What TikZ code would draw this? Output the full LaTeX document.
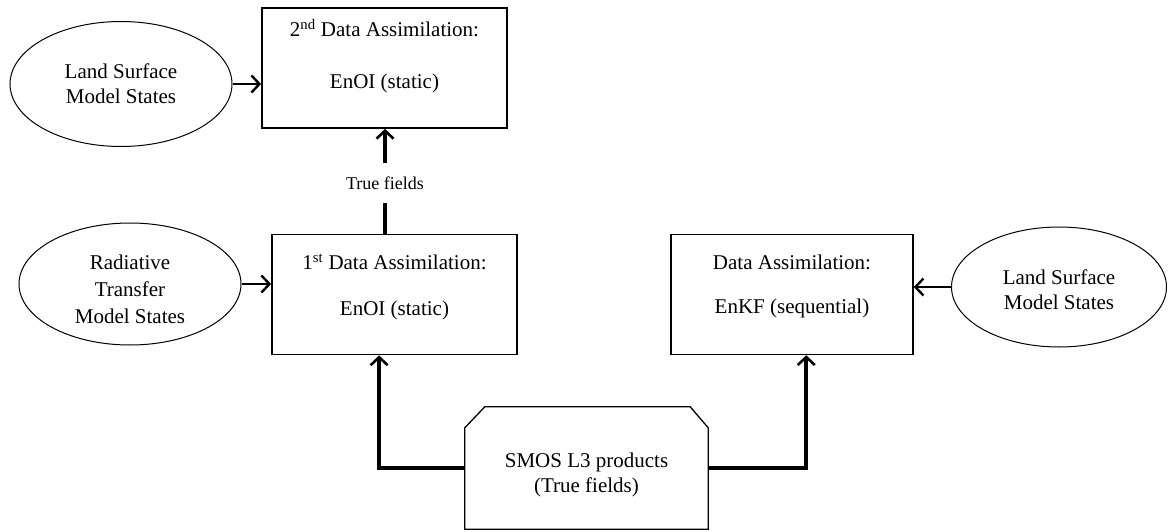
\documentclass[tikz,border=0pt]{standalone}
\usepackage{fontspec}
\setmainfont{Liberation Serif}
\usetikzlibrary{arrows.meta,calc,shapes.geometric}

\tikzset{
  boxnode/.style={draw, line width=1.8pt, minimum width=245pt, minimum height=120pt, inner sep=0pt},
  ovalnode/.style={draw, ellipse, line width=1pt, inner sep=0pt},
  txt/.style={font=\fontsize{21pt}{25pt}\selectfont, align=center, inner sep=0pt},
  lbl/.style={font=\fontsize{18pt}{21pt}\selectfont, inner sep=0pt},
  flow/.style={line width=3.6pt, -{Straight Barb[length=8pt,width=17pt,line width=2.6pt]}},
  flowthin/.style={line width=2.8pt, -{Straight Barb[length=8pt,width=17pt,line width=2.4pt]}},
  plain/.style={line width=3.6pt}
}

\begin{document}
\begin{tikzpicture}[x=1pt,y=-1pt]
\useasboundingbox (0,0) rectangle (1169,532);

% model state inputs
\node[ovalnode, minimum width=222pt, minimum height=125pt] (lsmA) at (121,84) {};
\node[txt] at (121,84) {Land Surface\\Model States};

\node[ovalnode, minimum width=222pt, minimum height=122pt] (rtm) at (130,284) {};
\node[txt, font=\fontsize{21pt}{27pt}\selectfont] at (130,289) {Radiative\\Transfer\\Model States};

\node[ovalnode, minimum width=215pt, minimum height=120pt] (lsmB) at (1059,287) {};
\node[txt] at (1059,290) {Land Surface\\Model States};

% assimilation steps
\node[boxnode] (da2) at (384.5,68) {};
\node[txt] at (384.5,28) {2\textsuperscript{nd} Data Assimilation:};
\node[txt] at (384.5,83) {EnOI (static)};

\node[boxnode] (da1) at (394.5,294.5) {};
\node[txt] at (394.5,262) {1\textsuperscript{st} Data Assimilation:};
\node[txt] at (394.5,310) {EnOI (static)};

\node[boxnode, minimum width=242pt, line width=1.5pt] (dak) at (792,294.5) {};
\node[txt] at (792,262) {Data Assimilation:};
\node[txt] at (792,308) {EnKF (sequential)};

% observation product
\node[minimum width=243pt, minimum height=122pt, inner sep=0pt] (smos) at (586.5,468) {};
\draw[line width=1.3pt]
  ($(smos.north west)+(0,21)$) -- ($(smos.north west)+(20,0)$)
  -- ($(smos.north east)+(-18,0)$) -- ($(smos.north east)+(0,21)$)
  -- (smos.south east) -- (smos.south west) -- cycle;
\node[txt] at (586.5,475) {SMOS L3 products\\(True fields)};

% label between the two EnOI steps
\node[lbl, minimum height=40pt] (tf) at (385,183) {True fields};

% connectors
\draw[flowthin] (lsmA.east) -- (lsmA.east -| da2.west);
\draw[flowthin] (rtm.east) -- (rtm.east -| da1.west);
\draw[flowthin, line width=2.4pt] (lsmB.west) -- (lsmB.west -| dak.east);
\draw[plain] (tf.south |- da1.north) -- (tf.south);
\draw[flow] (tf.north) -- (tf.north |- da2.south);
\draw[flow] (smos.west) -| ($(da1.south west)+(108,0)$);
\draw[flow] (smos.east) -| ($(dak.south west)+(136,0)$);
\end{tikzpicture}
\end{document}
